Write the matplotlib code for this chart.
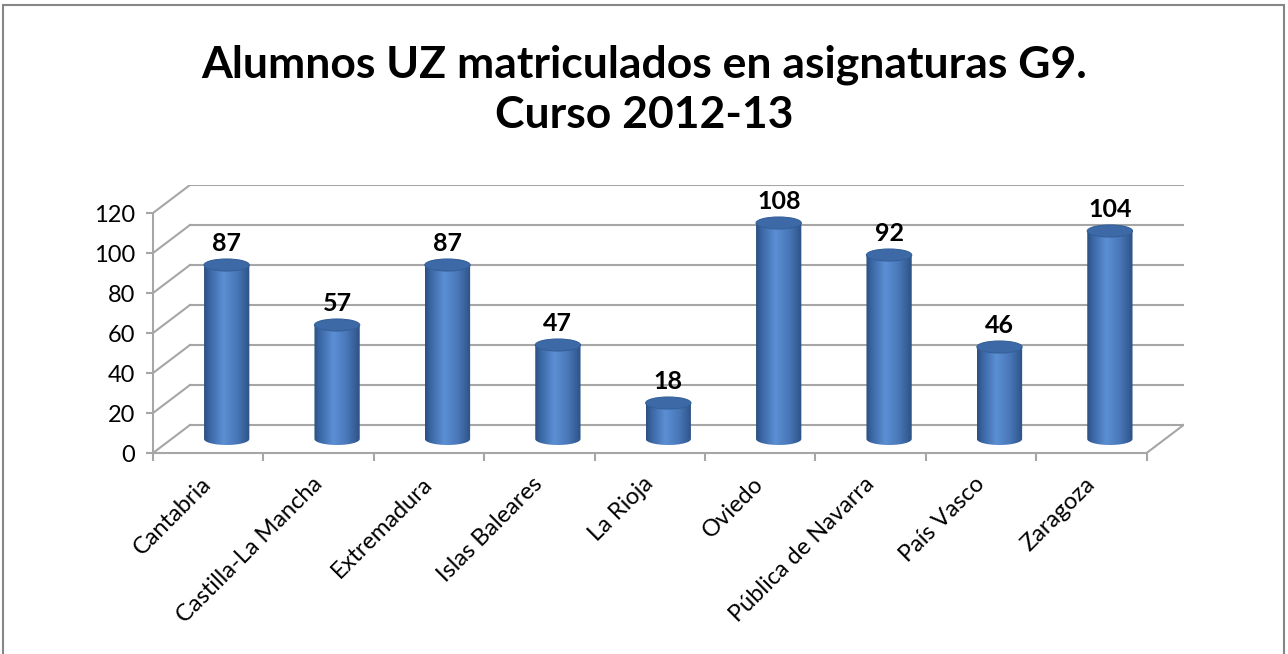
import numpy as np
import matplotlib
matplotlib.use("Agg")
import matplotlib.pyplot as plt
from matplotlib.patches import Polygon, Ellipse, Rectangle
from matplotlib.colors import LinearSegmentedColormap

plt.rcParams['font.family'] = ['Lato', 'DejaVu Sans']

# data
categories = ['Cantabria', 'Castilla-La Mancha', 'Extremadura', 'Islas Baleares',
              'La Rioja', 'Oviedo', 'Pública de Navarra', 'País Vasco', 'Zaragoza']
alumnos = [87, 57, 87, 47, 18, 108, 92, 46, 104]
y_ticks = [0, 20, 40, 60, 80, 100, 120]
title = 'Alumnos UZ matriculados en asignaturas G9.\nCurso 2012-13'

# fake 3d depth (data units)
DX = 0.335
DY = 14.0
CYL_W = 0.41
ELL_H = 6.0
GRID = '#a6a6a6'

W, H = 1288, 654
fig = plt.figure(figsize=(W / 100, H / 100), dpi=100)
n = len(categories)
px_cat = 110.4
px_unit = 2.0
ax = fig.add_axes([153 / W, (H - 453) / H, (n + DX) * px_cat / W, (120 + DY) * px_unit / H])
ax.set_xlim(0, n + DX)
ax.set_ylim(0, 120 + DY)
ax.set_facecolor('none')

# walls / gridlines
for v in y_ticks:
    ax.plot([DX, n + DX], [v + DY, v + DY], color=GRID, lw=1.5, zorder=1)
    ax.plot([0, DX], [v, v + DY], color=GRID, lw=1.5, zorder=1)
ax.plot([n, n + DX], [0, DY], color=GRID, lw=1.5, zorder=1)

for s in ['top', 'right']:
    ax.spines[s].set_visible(False)
for s in ['left', 'bottom']:
    ax.spines[s].set_color(GRID)
    ax.spines[s].set_linewidth(1.5)
ax.spines['left'].set_bounds(0, 120)
ax.spines['bottom'].set_bounds(0, n)

ax.set_yticks(y_ticks)
ax.set_yticklabels([str(v) for v in y_ticks], fontsize=17)
ax.tick_params(axis='y', length=5, width=1.5, color=GRID, pad=8)
ax.set_xticks(np.arange(n + 1), minor=True)
ax.set_xticks(np.arange(n) + 0.5)
ax.set_xticklabels(categories, rotation=45, ha='right', va='center',
                   rotation_mode='anchor', fontsize=17)
ax.tick_params(axis='x', which='major', length=0, pad=20)
ax.tick_params(axis='x', which='minor', length=6, width=1.5, color=GRID)

# cylinders
cmap = LinearSegmentedColormap.from_list('cyl', [
    (0.0, '#2b4f80'), (0.12, '#3a66a3'), (0.42, '#5b8fd4'),
    (0.7, '#4a79ba'), (0.9, '#375f98'), (1.0, '#2c5183')])
grad = np.linspace(0, 1, 256).reshape(1, -1)
t = np.linspace(np.pi, 2 * np.pi, 60)
for i, v in enumerate(alumnos):
    cx = i + 0.5 + DX / 2
    base = DY / 2
    top = v + DY / 2
    arc_x = cx + (CYL_W / 2) * np.cos(t)
    arc_y = base + (ELL_H / 2) * np.sin(t)
    pts = np.column_stack([np.concatenate([[cx - CYL_W / 2], arc_x, [cx + CYL_W / 2]]),
                           np.concatenate([[top], arc_y, [top]])])
    body = Polygon(pts, closed=True, facecolor='none', edgecolor='none', zorder=3)
    ax.add_patch(body)
    im = ax.imshow(grad, cmap=cmap, aspect='auto', zorder=3,
                   extent=[cx - CYL_W / 2, cx + CYL_W / 2, base - ELL_H / 2, top],
                   interpolation='bilinear')
    im.set_clip_path(body)
    ax.add_patch(Ellipse((cx, top), CYL_W, ELL_H, facecolor='#3d6aa6',
                         edgecolor='#34609a', lw=0.8, zorder=4))
    ax.text(cx, top + ELL_H / 2 + 4, str(v), ha='center', va='baseline',
            fontsize=18, fontweight='bold', zorder=5)

ax.set_xlim(0, n + DX)
ax.set_ylim(0, 120 + DY)

fig.text(0.5, (H - 128) / H, title, ha='center', va='baseline', fontsize=32,
         fontweight='bold', linespacing=1.3)

fig.add_artist(Rectangle((3 / W, -0.05), (W - 7) / W, 1.05 - 5 / H,
                         transform=fig.transFigure, fill=False,
                         edgecolor='#868686', lw=1.5))

fig.savefig('out.png', dpi=100)
